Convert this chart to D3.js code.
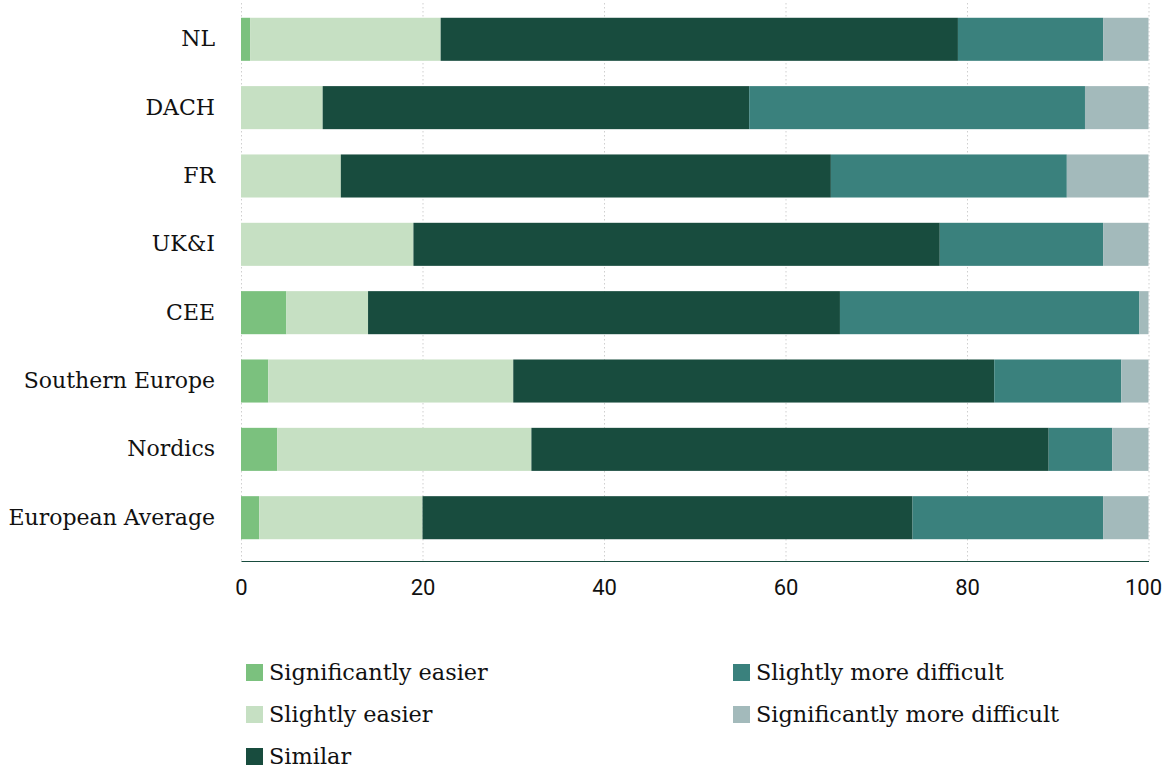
<!DOCTYPE html>
<html><head><meta charset="utf-8">
<script src="https://cdn.jsdelivr.net/npm/d3@7"></script>
<style>
html,body{margin:0;padding:0;background:#fff;}
svg{display:block;}
</style></head>
<body>
<svg id="chart" width="1163" height="769"></svg>
<script>
const regions = ["NL","DACH","FR","UK&I","CEE","Southern Europe","Nordics","European Average"];
const seriesNames = ["Significantly easier","Slightly easier","Similar","Slightly more difficult","Significantly more difficult"];
const significantlyEasier = [1,0,0,0,5,3,4,2];
const slightlyEasier      = [21,9,11,19,9,27,28,18];
const similar             = [57,47,54,58,52,53,57,54];
const slightlyMoreDifficult = [16,37,26,18,33,14,7,21];
const significantlyMoreDifficult = [5,7,9,5,1,3,4,5];
const xTicks = [0,20,40,60,80,100];
const colors = ["#7bc17e","#c6e0c3","#184c3e","#3a817d","#a3babb"];

const seriesValues = [significantlyEasier, slightlyEasier, similar, slightlyMoreDifficult, significantlyMoreDifficult];
const rows = regions.map((r,i)=>{
  const o = {region:r};
  seriesNames.forEach((s,j)=>o[s]=seriesValues[j][i]);
  return o;
});

const svg = d3.select("#chart");
const serif = "'DejaVu Serif', serif";
const sans = "Roboto, sans-serif";

const x = d3.scaleLinear().domain([0,100]).range([241,1148.5]);
const y = d3.scaleBand().domain(regions).range([0,557]).paddingInner(0.37).paddingOuter(0.26);
const gridTop = 3, axisY = 561;

// gridlines
svg.append("g").selectAll("line").data(xTicks).join("line")
  .attr("x1",d=>x(d)+0.5).attr("x2",d=>x(d)+0.5)
  .attr("y1",gridTop).attr("y2",axisY)
  .attr("stroke","#cfcfcf").attr("stroke-width",1).attr("stroke-dasharray","1.5,2.5");

// bars
const stack = d3.stack().keys(seriesNames)(rows);
svg.append("g").selectAll("g").data(stack).join("g")
  .attr("fill",(d,i)=>colors[i])
  .selectAll("rect").data(d=>d).join("rect")
  .attr("x",d=>x(d[0])).attr("width",d=>Math.max(0,x(d[1])-x(d[0])))
  .attr("y",d=>y(d.data.region)).attr("height",y.bandwidth());

// x axis
const xAxis = svg.append("g").attr("transform",`translate(0,${axisY})`)
  .call(d3.axisBottom(x).tickValues(xTicks).tickSize(0).tickPadding(18));
xAxis.select(".domain").attr("stroke","#184c3e").attr("stroke-width",1.2);
xAxis.selectAll("text").attr("font-family",sans).attr("font-size",22).attr("fill","#111");
xAxis.selectAll(".tick").filter(d=>d===100).select("text").attr("text-anchor","end").attr("dx",13);

// y axis
const yAxis = svg.append("g").attr("transform",`translate(241,0)`)
  .call(d3.axisLeft(y).tickSize(0).tickPadding(26));
yAxis.select(".domain").remove();
yAxis.selectAll("text").attr("font-family",serif).attr("font-size",22).attr("fill","#111");

// legend
const legendItems = seriesNames.map((s,i)=>({name:s,color:colors[i],col:i<3?0:1,row:i<3?i:i-3}));
const colX = [246,733], rowY0 = 664, rowStep = 42;
const lg = svg.append("g").selectAll("g").data(legendItems).join("g")
  .attr("transform",d=>`translate(${colX[d.col]},${rowY0+d.row*rowStep})`);
lg.append("rect").attr("width",17).attr("height",17).attr("fill",d=>d.color);
lg.append("text").attr("x",23).attr("y",8.5).attr("dy","0.35em")
  .attr("font-family",serif).attr("font-size",22.4).attr("fill","#111").text(d=>d.name);
</script>
</body></html>
